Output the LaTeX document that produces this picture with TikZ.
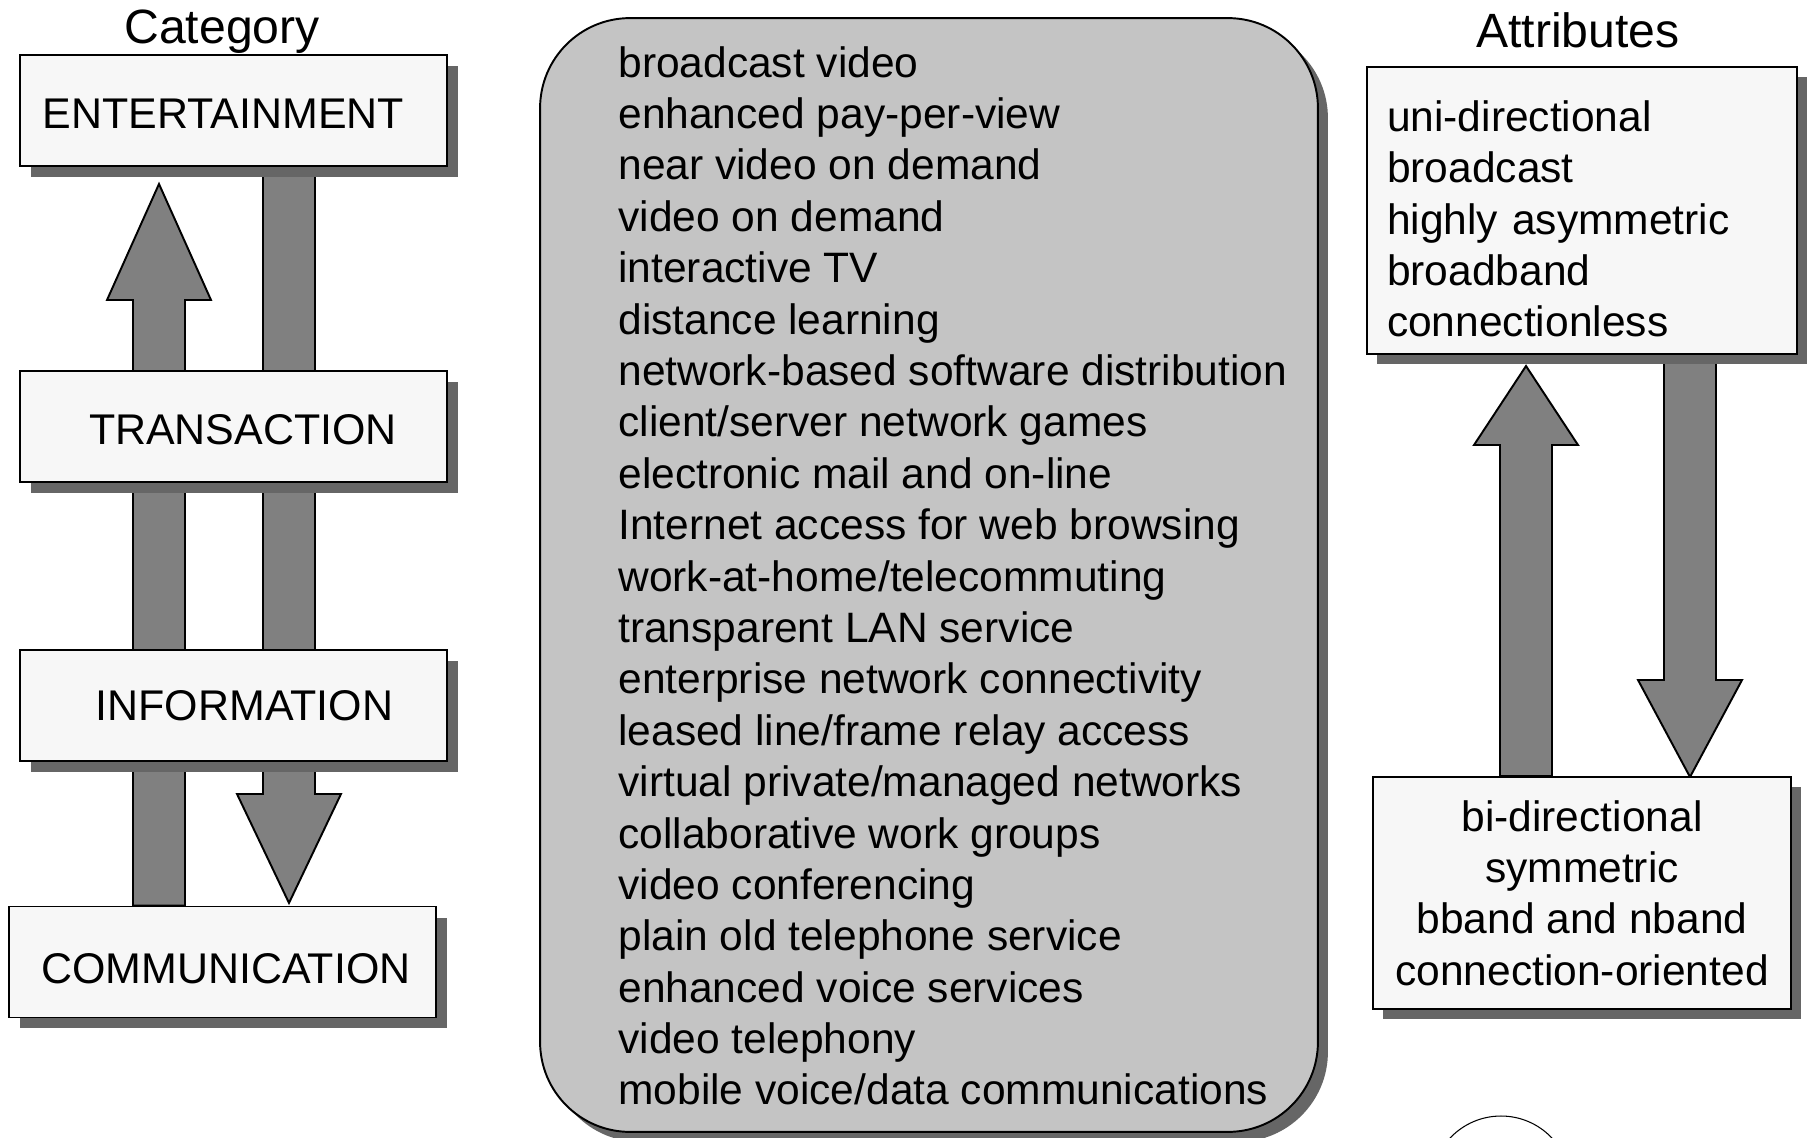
\documentclass[tikz,border=0pt]{standalone}
\usepackage{fontspec}
\setmainfont{Liberation Sans}
\usetikzlibrary{calc,shadows,backgrounds}
\definecolor{boxfill}{HTML}{F7F7F7}
\definecolor{shadowgray}{HTML}{666666}
\definecolor{arrowgray}{HTML}{808080}
\definecolor{listfill}{HTML}{C4C4C4}
\newcommand\boxfont{\fontsize{24.45}{28}\selectfont}
\newcommand\listfont{\fontsize{24.2}{29.25}\selectfont}
\newcommand\headfont{\fontsize{27.4}{30}\selectfont}
\newcommand\blockarrow[3]{%
  \coordinate (h) at ($(#2)!#3!(#1)$);
  \draw[bigarrow] ($(#1)!0.52cm!90:(#2)$) -- ($(h)!0.52cm!90:(#2)$) -- ($(h)!1.04cm!90:(#2)$) -- (#2)
    -- ($(h)!1.04cm!-90:(#2)$) -- ($(h)!0.52cm!-90:(#2)$) -- ($(#1)!0.52cm!-90:(#2)$) -- cycle;
}

\begin{document}
\begin{tikzpicture}
[
x=0.02cm, y=-0.02cm,
boxshadow/.style={drop shadow={shadow xshift=#1, shadow yshift=-#1, fill=shadowgray, opacity=1}},
catbox/.style={draw, line width=1.1pt, fill=boxfill, minimum width=8.54cm, minimum height=2.22cm, font=\boxfont, text height=21pt, boxshadow=0.22cm},
attrbox/.style={draw, line width=1.1pt, fill=boxfill, font=\listfont, boxshadow=0.2cm},
bigarrow/.style={draw, line width=1.1pt, fill=arrowgray},
heading/.style={font=\headfont, anchor=base},
]
\useasboundingbox (0,0) rectangle (1808,1138);

\node[heading] (cathead) at (222,44) {Category};
\node[heading] (attrhead) at (1578,48) {Attributes};

\node[catbox] (ent) at (233.5,110.5) {ENTERTAINMENT\hspace*{0.4cm}};
\node[catbox] (trans) at (233.5,426.5) {\hspace*{0.38cm}TRANSACTION};
\node[catbox, text height=17.5pt] (info) at (233.5,705.5) {\hspace*{0.44cm}INFORMATION};
\node[catbox, text height=25pt] (comm) at (222.5,962) {\hspace*{0.14cm}COMMUNICATION};

\node[draw, line width=1.1pt, fill=listfill, rounded corners=1.8cm, minimum width=15.56cm, minimum height=22.28cm, boxshadow=0.2cm] (svc) at (929,575) {};
\node[anchor=north west, inner sep=0, align=left, font=\listfont] (svclist) at (618,46) {broadcast video\\enhanced pay-per-view\\near video on demand\\video on demand\\interactive TV\\distance learning\\network-based software distribution\\client/server network games\\electronic mail and on-line\\Internet access for web browsing\\work-at-home/telecommuting\\transparent LAN service\\enterprise network connectivity\\leased line/frame relay access\\virtual private/managed networks\\collaborative work groups\\video conferencing\\plain old telephone service\\enhanced voice services\\video telephony\\mobile voice/data communications};

\node[attrbox, text width=7.8cm, inner xsep=0.4cm, minimum height=5.74cm, align=left] (attr) at (1582,210.5) {\rule{0pt}{27pt}uni-directional\\broadcast\\highly asymmetric\\broadband\\connectionless};
\node[attrbox, minimum width=8.36cm, minimum height=4.64cm, align=center] (attrlow) at (1582,893) {bi-directional\\symmetric\\bband and nband\\connection-oriented};

\coordinate (catup) at (159,184);
\coordinate (catdown) at (289,903);
\coordinate (attrup) at (1526,366);
\coordinate (attrdown) at (1690,777);

\begin{scope}[on background layer]
\blockarrow{comm.north -| catup}{catup}{2.32cm}
\blockarrow{ent.south -| catdown}{catdown}{2.18cm}
\blockarrow{attrlow.north -| attrup}{attrup}{1.58cm}
\blockarrow{attr.south -| attrdown}{attrdown}{1.94cm}
\end{scope}

\begin{scope}
\clip (0,0) rectangle (1808,1138);
\draw[line width=0.6pt] (1501,1186) circle[radius=1.4cm];
\end{scope}

\end{tikzpicture}
\end{document}
